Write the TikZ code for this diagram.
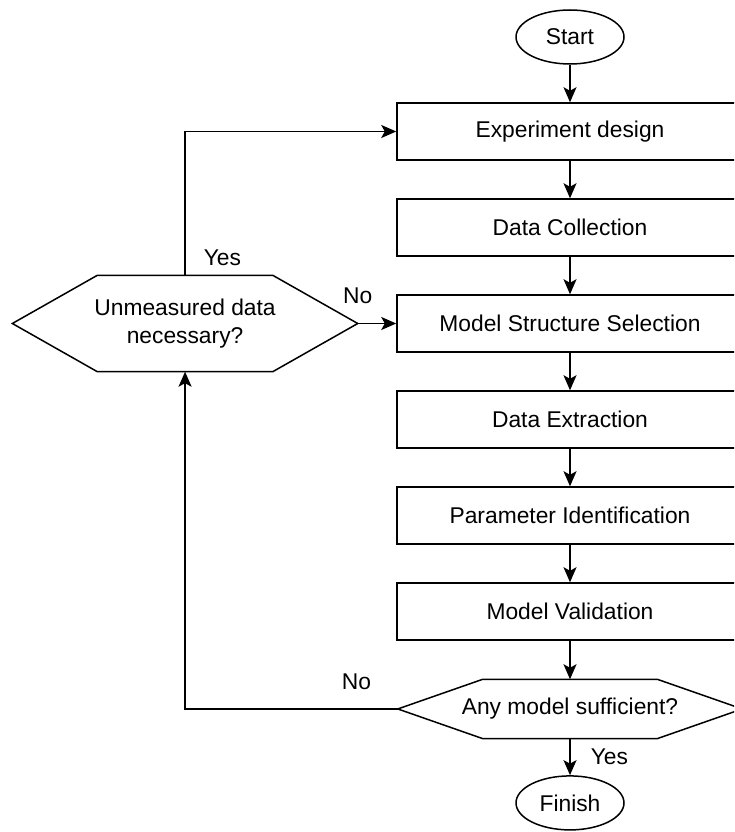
\documentclass[tikz,border=0pt]{standalone}
\usepackage{fontspec}
\setmainfont{Liberation Sans}
\usetikzlibrary{positioning,arrows.meta,shapes.geometric}
\newcommand{\hexframe}[2]{\draw[line] (#1.west) -- ([xshift=#2]#1.north west) -- ([xshift=-#2]#1.north east) -- (#1.east) -- ([xshift=-#2]#1.south east) -- ([xshift=#2]#1.south west) -- cycle;}

\begin{document}
\begin{tikzpicture}[
  x=1pt, y=-1pt,
  node distance=37.5pt,
  font=\fontsize{22.8}{27.5}\selectfont,
  line/.style={line width=1.5pt},
  arr/.style={line, -{Stealth[length=15pt, width=13pt, inset=3.5pt]}},
  terminal/.style={ellipse, draw, line width=1.5pt, minimum width=108pt, minimum height=54pt, inner sep=0pt},
  stage/.style={rectangle, draw, line width=1.5pt, minimum width=346pt, minimum height=57pt, inner sep=0pt, align=center},
  decision/.style={rectangle, inner sep=0pt, align=center},
  lbl/.style={inner sep=0pt}
]
\useasboundingbox (0,0) rectangle (734,832);
\clip (0,0) rectangle (734,832);

\node[terminal] (start) at (570,37) {Start};
\node[stage, below=of start] (expdesign) {Experiment design};
\node[stage, below=of expdesign] (datacoll) {Data Collection};
\node[stage, below=of datacoll] (modelsel) {Model Structure Selection};
\node[stage, below=of modelsel] (dataext) {Data Extraction};
\node[stage, below=of dataext] (paramid) {Parameter Identification};
\node[stage, below=of paramid] (modelval) {Model Validation};
\node[decision, below=38.5pt of modelval, minimum width=344pt, minimum height=59pt] (anysuff) {Any model sufficient?};
\node[terminal, below=36.5pt of anysuff] (finish) {Finish};
\node[decision, left=38.5pt of modelsel, minimum width=345pt, minimum height=96pt] (needdata) {Unmeasured data\\necessary?};

\hexframe{anysuff}{85pt}
\hexframe{needdata}{85pt}

\draw[arr] (start) -- (expdesign);
\draw[arr] (expdesign) -- (datacoll);
\draw[arr] (datacoll) -- (modelsel);
\draw[arr] (modelsel) -- (dataext);
\draw[arr] (dataext) -- (paramid);
\draw[arr] (paramid) -- (modelval);
\draw[arr] (modelval) -- (anysuff);
\draw[arr] (anysuff) -- node[lbl, right=20pt] {Yes} (finish);

% feedback loops
\draw[arr] (anysuff.west) -| node[lbl, pos=0, above left=18pt and 26pt] {No} (needdata.south);
\draw[arr] (needdata.north) |- node[lbl, pos=0, above right=9pt and 18pt] {Yes} (expdesign.west);
\draw[arr] (needdata.east) -- node[lbl, pos=0, above=19pt] {No} (modelsel.west);
\end{tikzpicture}
\end{document}
